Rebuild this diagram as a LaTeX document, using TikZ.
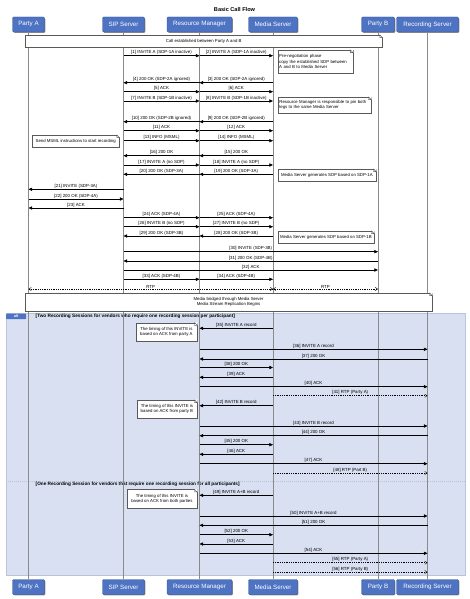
\documentclass[tikz,border=0pt]{standalone}
\usepackage{fontspec}
\setmainfont{Liberation Sans}
\usetikzlibrary{arrows.meta,shadows,positioning}
\definecolor{hdblue}{HTML}{4E73C2}
\definecolor{hdborder}{HTML}{2F4F8F}
\definecolor{altfill}{HTML}{D8E0F1}
\definecolor{altline}{HTML}{B8C4DC}
\definecolor{lifegray}{HTML}{8A8A8A}
\tikzset{
  hdr/.style={rectangle, rounded corners=1.2pt, fill=hdblue, draw=hdborder, line width=0.4pt,
    text=white, font=\fontsize{6.2}{7}\selectfont, minimum height=15pt, inner sep=0pt,
    drop shadow={shadow xshift=0.9pt, shadow yshift=-0.9pt, opacity=0.45, fill=black}},
  life/.style={draw=lifegray, line width=0.5pt},
  msgline/.style={line width=0.5pt, -{Triangle[length=3.6pt,width=3.2pt]}},
  rtpline/.style={line width=0.45pt, dash pattern=on 1pt off 0.8pt, -{Straight Barb[length=2.4pt,width=3.2pt]}},
  rtpboth/.style={line width=0.45pt, dash pattern=on 1pt off 0.8pt, {Straight Barb[length=2.4pt,width=3.2pt]}-{Straight Barb[length=2.4pt,width=3.2pt]}},
  lbl/.style={font=\fontsize{4.4}{4.6}\selectfont, inner sep=0.3pt, above=0.3pt},
  notebox/.style={rectangle, fill=white, draw=gray!70!black, line width=0.4pt, inner sep=1.5pt,
    font=\fontsize{4.3}{5.3}\selectfont, anchor=north west,
    drop shadow={shadow xshift=0.7pt, shadow yshift=-0.7pt, opacity=0.35, fill=black}},
  altframe/.style={rectangle, fill=altfill, draw=altline, line width=0.4pt, anchor=north west, inner sep=0pt},
  condtext/.style={anchor=west, font=\bfseries\fontsize{4.7}{5}\selectfont, inner sep=0pt},
}
\newcommand\msg[4]{\draw[msgline] (#2 |- 0,#1) -- node[lbl]{#4} (#3 |- 0,#1);}
\newcommand\rtpmsg[4]{\draw[rtpline] (#2 |- 0,#1) -- node[lbl]{#4} (#3 |- 0,#1);}
\newcommand\foldcorner[1]{%
  \fill[white] ([xshift=-2.6pt,yshift=0.4pt]#1.north east) -- ([xshift=0.4pt,yshift=0.4pt]#1.north east) -- ([xshift=0.4pt,yshift=-2.6pt]#1.north east) -- cycle;
  \draw[gray!70!black, line width=0.4pt] ([xshift=-2.6pt]#1.north east) -- ([yshift=-2.6pt]#1.north east) -- ([xshift=-2.6pt,yshift=-2.6pt]#1.north east) -- cycle;}
\begin{document}
\begin{tikzpicture}[x=1pt,y=-1pt]
\useasboundingbox (0,0) rectangle (469,599);
% title
\node[font=\bfseries\fontsize{5.6}{6}\selectfont] (title) at (234.5,9.5) {Basic Call Flow};
% alt frame background
\node[altframe, minimum width=459.3pt, minimum height=261.7pt] (alt) at (5.7,313.3) {};
\draw[altline, dash pattern=on 1pt off 1pt, line width=0.4pt] (alt.west |- 0,480.7) -- (alt.east |- 0,480.7);
\node[fill=hdblue, rounded corners=0.8pt, anchor=north west, minimum width=20pt, minimum height=5.6pt, inner sep=0pt,
  text=white, font=\bfseries\fontsize{3.8}{4}\selectfont] (alttab) at (5.9,313.4) {alt};
\node[condtext] (cond1) at (35.5,316.3)
  {[Two Recording Sessions for vendors who require one recording session per participant]};
\node[condtext] (cond2) at (35.5,483.8)
  {[One Recording Session for vendors that require one recording session for all participants]};
% headers
\node[hdr, minimum width=32pt] (pA) at (28.5,24.5) {Party A};
\node[hdr, minimum width=42pt] (sip) at (123.5,24.5) {SIP Server};
\node[hdr, minimum width=65pt] (rm) at (199.5,24.5) {Resource Manager};
\node[hdr, minimum width=49pt] (ms) at (273,24.5) {Media Server};
\node[hdr, minimum width=33pt] (pB) at (378,24.5) {Party B};
\node[hdr, minimum width=62pt] (rec) at (427.5,24.5) {Recording Server};
\node[hdr, minimum width=32pt] (pAb) at (28.5,587) {Party A};
\node[hdr, minimum width=42pt] (sipb) at (123.5,587) {SIP Server};
\node[hdr, minimum width=65pt] (rmb) at (199.5,587) {Resource Manager};
\node[hdr, minimum width=49pt] (msb) at (273,587) {Media Server};
\node[hdr, minimum width=33pt] (pBb) at (378,587) {Party B};
\node[hdr, minimum width=62pt] (recb) at (427.5,587) {Recording Server};
% lifelines
\draw[life] (pA) -- (pAb);
\draw[life] (sip) -- (sipb);
\draw[life] (rm) -- (rmb);
\draw[life] (ms) -- (msb);
\draw[life] (pB) -- (pBb);
\draw[life] (rec) -- (recb);
% spanning notes
\node[notebox, minimum width=357pt, minimum height=12pt, align=center] (callest) at (25,35) {Call established between Party A and B};
\foldcorner{callest}
% messages
\msg{55.7}{sip}{rm}{[1] INVITE A (SDP-1A inactive)}
\msg{55.7}{rm}{ms}{[2] INVITE A (SDP-1A inactive)}
\node[notebox, text width=72pt, minimum height=23pt, align=left] (n1) at (277.5,50)
  {Pre-negotiation phase\\copy the established SDP between\\A and B to Media Server};
\foldcorner{n1}
\msg{82.7}{ms}{rm}{[3] 200 OK (SDP-2A ignored)}
\msg{82.7}{rm}{sip}{[4] 200 OK (SDP-2A ignored)}
\msg{91.7}{sip}{rm}{[5] ACK}
\msg{91.7}{rm}{ms}{[6] ACK}
\msg{101}{sip}{rm}{[7] INVITE B (SDP-1B inactive)}
\msg{101}{rm}{ms}{[8] INVITE B (SDP-1B inactive)}
\node[notebox, text width=90pt, minimum height=15.7pt, align=left] (n2) at (277.7,97)
  {Resource Manager is responsible to pin both\\legs to the same Media Server};
\foldcorner{n2}
\msg{121.7}{ms}{rm}{[9] 200 OK (SDP-2B ignored)}
\msg{121.7}{rm}{sip}{[10] 200 OK (SDP-2B ignored)}
\msg{130.7}{sip}{rm}{[11] ACK}
\msg{130.7}{rm}{ms}{[12] ACK}
\msg{140.7}{sip}{rm}{[13] INFO (MSML)}
\msg{140.7}{rm}{ms}{[14] INFO (MSML)}
\node[notebox, minimum width=87pt, minimum height=11.7pt] (n3) at (32,135)
  {Send MSML instructions to start recording};
\foldcorner{n3}
\msg{155.7}{ms}{rm}{[15] 200 OK}
\msg{155.7}{rm}{sip}{[16] 200 OK}
\msg{165}{sip}{rm}{[17] INVITE A (no SDP)}
\msg{165}{rm}{ms}{[18] INVITE A (no SDP)}
\msg{174.3}{ms}{rm}{[19] 200 OK (SDP-3A)}
\msg{174.3}{rm}{sip}{[20] 200 OK (SDP-3A)}
\node[notebox, minimum width=98pt, minimum height=11.7pt] (n4) at (277.7,169)
  {Media Server generates SDP based on SDP-1A};
\foldcorner{n4}
\msg{189.3}{sip}{pA}{[21] INVITE (SDP-3A)}
\msg{199}{pA}{sip}{[22] 200 OK (SDP-4A)}
\msg{208}{sip}{pA}{[23] ACK}
\msg{217.7}{sip}{rm}{[24] ACK (SDP-4A)}
\msg{217.7}{rm}{ms}{[25] ACK (SDP-4A)}
\msg{226.7}{sip}{rm}{[26] INVITE B (no SDP)}
\msg{226.7}{rm}{ms}{[27] INVITE B (no SDP)}
\msg{236}{ms}{rm}{[28] 200 OK (SDP-3B)}
\msg{236}{rm}{sip}{[29] 200 OK (SDP-3B)}
\node[notebox, minimum width=96pt, minimum height=11.7pt] (n5) at (277.7,231)
  {Media Server generates SDP based on SDP-1B};
\foldcorner{n5}
\msg{251.7}{sip}{pB}{[30] INVITE (SDP-3B)}
\msg{261}{pB}{sip}{[31] 200 OK (SDP-4B)}
\msg{270}{sip}{pB}{[32] ACK}
\msg{279.3}{sip}{rm}{[33] ACK (SDP-4B)}
\msg{279.3}{rm}{ms}{[34] ACK (SDP-4B)}
\draw[rtpboth] (pA |- 0,289) -- node[lbl]{RTP} (ms |- 0,289);
\draw[rtpboth] (ms |- 0,289) -- node[lbl]{RTP} (pB |- 0,289);
\node[notebox, minimum width=406.7pt, minimum height=17.5pt, align=center] (bridge) at (25,293)
  {Media bridged through Media Server\\Media Stream Replication Begins};
\foldcorner{bridge}
% alt section 1
\msg{328.3}{ms}{rm}{[35] INVITE A record}
\node[notebox, minimum width=61pt, minimum height=18pt, align=center] (n6) at (135.7,322.7)
  {The timing of this INVITE is\\based on ACK from party A};
\foldcorner{n6}
\msg{349.3}{rm}{rec}{[36] INVITE A record}
\msg{359}{rec}{rm}{[37] 200 OK}
\msg{367.5}{rm}{ms}{[38] 200 OK}
\msg{377.3}{ms}{rm}{[39] ACK}
\msg{386.7}{rm}{rec}{[40] ACK}
\rtpmsg{395.7}{ms}{rec}{[41] RTP (Party A)}
\msg{405.7}{ms}{rm}{[42] INVITE B record}
\node[notebox, minimum width=60pt, minimum height=17.7pt, align=center] (n7) at (136.7,400)
  {The timing of this INVITE is\\based on ACK from party B};
\foldcorner{n7}
\msg{426}{rm}{rec}{[43] INVITE B record}
\msg{435.7}{rec}{rm}{[44] 200 OK}
\msg{444.7}{rm}{ms}{[45] 200 OK}
\msg{454.3}{ms}{rm}{[46] ACK}
\msg{463.7}{rm}{rec}{[47] ACK}
\rtpmsg{473}{ms}{rec}{[48] RTP (Part B)}
% alt section 2
\msg{495.3}{ms}{rm}{[49] INVITE A+B record}
\node[notebox, minimum width=70pt, minimum height=18.4pt, align=center] (n8) at (126.7,489.3)
  {The timing of this INVITE is\\based on ACK from both parties};
\foldcorner{n8}
\msg{516}{rm}{rec}{[50] INVITE A+B record}
\msg{525.3}{rec}{rm}{[51] 200 OK}
\msg{534.7}{rm}{ms}{[52] 200 OK}
\msg{544}{ms}{rm}{[53] ACK}
\msg{553.3}{rm}{rec}{[54] ACK}
\rtpmsg{562.7}{ms}{rec}{[55] RTP (Party A)}
\rtpmsg{572}{ms}{rec}{[56] RTP (Party B)}
\end{tikzpicture}
\end{document}
